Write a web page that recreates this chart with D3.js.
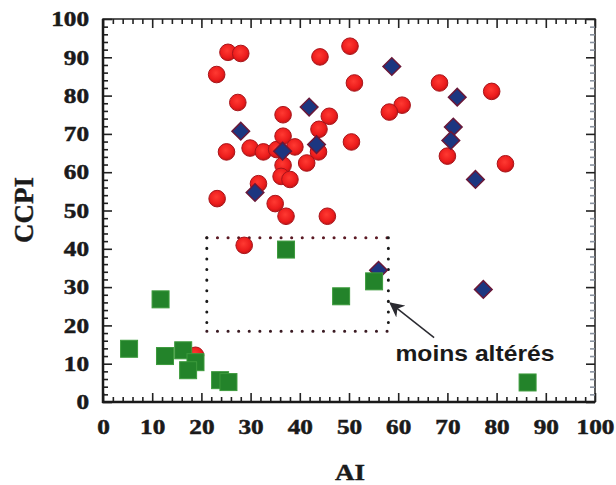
<!DOCTYPE html>
<html>
<head>
<meta charset="utf-8">
<script src="https://cdn.jsdelivr.net/npm/d3@7/dist/d3.min.js"></script>
<style>
  body { margin: 0; background: #fff; }
  svg { display: block; }
  .tick text { font-family: "Liberation Serif", "Times New Roman", serif; font-weight: bold; font-size: 21px; fill: #1a1a1a; stroke: #1a1a1a; stroke-width: 0.5px; }
</style>
</head>
<body>
<div id="chart"></div>
<script>
// red circles [AI, CCPI]
const circleData = [
  [25.4, 91.3], [28.0, 91.0], [23.1, 85.5], [27.4, 78.2], [25.1, 65.3],
  [36.6, 75.0], [46.0, 74.6], [43.9, 71.2], [44.1, 90.1], [50.2, 92.9],
  [51.1, 83.3], [60.8, 77.5], [58.2, 75.7], [68.4, 83.3], [79.0, 81.1],
  [70.0, 64.2], [81.8, 62.2], [50.5, 67.9], [45.6, 48.5], [43.8, 65.3],
  [41.4, 62.4], [29.9, 66.3], [32.6, 65.3], [35.3, 65.9], [36.6, 69.4],
  [39.0, 66.6], [36.6, 61.8], [36.2, 58.9], [38.0, 58.1], [31.6, 57.0],
  [23.2, 53.1], [35.0, 51.8], [37.2, 48.5], [28.7, 40.9], [18.8, 12.2]
];
// blue diamonds
const diamondData = [
  [28.0, 70.7], [41.9, 77.0], [43.4, 67.2], [36.5, 65.5], [30.9, 54.7],
  [58.7, 87.6], [72.0, 79.6], [71.2, 71.8], [70.7, 68.3], [75.7, 58.1],
  [77.3, 29.4], [56.0, 34.4]
];
// green squares
const squareData = [
  [5.3, 13.9], [11.7, 26.8], [12.6, 12.0], [16.3, 13.5], [18.8, 10.4],
  [17.3, 8.3], [23.8, 5.7], [25.5, 5.2], [37.2, 39.8], [48.4, 27.6],
  [55.1, 31.5], [86.3, 5.1]
];
// "moins altérés" box: [x0, y0, x1, y1]
const boxRange = [21.1, 18.5, 58.0, 42.9];
const majorTicks = d3.range(0, 101, 10);
const minorTicks = d3.range(0, 101, 2).filter(d => d % 10 !== 0);

const W = 616, H = 485;
const mLeft = 103, mRight = 595, mTop = 19, mBottom = 402;
const tickFont = 21, stretch = 1.2;

const svg = d3.select("#chart").append("svg").attr("width", W).attr("height", H);

const x = d3.scaleLinear().domain([0, 100]).range([mLeft, mRight]);
const y = d3.scaleLinear().domain([0, 100]).range([mBottom, mTop]);

const defs = svg.append("defs");
const rg = defs.append("radialGradient").attr("id", "redball").attr("cx", "45%").attr("cy", "40%").attr("r", "60%");
rg.append("stop").attr("offset", "0%").attr("stop-color", "#ff3a32");
rg.append("stop").attr("offset", "70%").attr("stop-color", "#ec1c1c");
rg.append("stop").attr("offset", "100%").attr("stop-color", "#c41414");

// frame
svg.append("rect")
  .attr("x", mLeft).attr("y", mTop)
  .attr("width", mRight - mLeft).attr("height", mBottom - mTop)
  .attr("fill", "none").attr("stroke", "#222").attr("stroke-width", 1.5);

function addAxis(axisFn, transform, ticks, size, labels, color) {
  const g = svg.append("g").attr("transform", transform)
    .call(axisFn.tickValues(ticks).tickSizeInner(-size).tickSizeOuter(0)
      .tickFormat(labels ? d3.format("d") : ""));
  g.select(".domain").remove();
  g.selectAll(".tick line").attr("stroke", color).attr("stroke-width", 1.6);
  if (labels) {
    // source labels are a wide bold serif; stretch glyphs horizontally
    g.selectAll(".tick text")
      .attr("textLength", d => String(d).length * 0.5 * tickFont * stretch)
      .attr("lengthAdjust", "spacingAndGlyphs");
  }
  return g;
}

// bottom
const gx = addAxis(d3.axisBottom(x), `translate(0,${mBottom})`, majorTicks, 9, true, "#222");
gx.selectAll(".tick text").attr("y", 17).attr("dy", "0.71em");
addAxis(d3.axisBottom(x), `translate(0,${mBottom})`, minorTicks, 5, false, "#222");
// top
addAxis(d3.axisTop(x), `translate(0,${mTop})`, majorTicks, 9, false, "#222");
addAxis(d3.axisTop(x), `translate(0,${mTop})`, minorTicks, 5, false, "#222");
// left
const gy = addAxis(d3.axisLeft(y), `translate(${mLeft},0)`, majorTicks, 9, true, "#222");
gy.selectAll(".tick text").attr("x", -14);
addAxis(d3.axisLeft(y), `translate(${mLeft},0)`, minorTicks, 5, false, "#222");
// right
addAxis(d3.axisRight(y), `translate(${mRight},0)`, majorTicks, 9, false, "#222");
addAxis(d3.axisRight(y), `translate(${mRight},0)`, minorTicks, 5, false, "#8a93a0");

// thicker left and bottom spines
svg.append("line").attr("x1", mLeft).attr("x2", mLeft).attr("y1", mTop).attr("y2", mBottom + 1)
  .attr("stroke", "#1a1a1a").attr("stroke-width", 2.5);
svg.append("line").attr("x1", mLeft - 1).attr("x2", mRight).attr("y1", mBottom).attr("y2", mBottom)
  .attr("stroke", "#1a1a1a").attr("stroke-width", 2.5);

// dotted box
const bx0 = x(boxRange[0]), by0 = y(boxRange[3]), bx1 = x(boxRange[2]), by1 = y(boxRange[1]);
const dot = { "stroke-width": 3, "stroke-dasharray": "0.1 10.5", "stroke-linecap": "round", fill: "none" };
[[bx0, by0, bx1, by0, "#5c1a24"], [bx0, by1, bx1, by1, "#3a1a22"],
 [bx0, by0, bx0, by1, "#1a1a1a"], [bx1, by0, bx1, by1, "#1a1a1a"]].forEach(([a, b, c, d, col]) => {
  const l = svg.append("line").attr("x1", a).attr("y1", b).attr("x2", c).attr("y2", d).attr("stroke", col);
  Object.entries(dot).forEach(([k, v]) => l.attr(k, v));
});

// circles
svg.append("g").selectAll("circle").data(circleData).join("circle")
  .attr("cx", d => x(d[0])).attr("cy", d => y(d[1])).attr("r", 8.3)
  .attr("fill", "url(#redball)").attr("stroke", "#a8141a").attr("stroke-width", 1);

// diamonds
svg.append("g").selectAll("path").data(diamondData).join("path")
  .attr("d", d3.symbol().type(d3.symbolSquare).size(155))
  .attr("transform", d => `translate(${x(d[0])},${y(d[1])}) rotate(45)`)
  .attr("fill", "#1c3680").attr("stroke", "#6a1838").attr("stroke-width", 1.5);

// squares
svg.append("g").selectAll("rect").data(squareData).join("rect")
  .attr("x", d => x(d[0]) - 8.5).attr("y", d => y(d[1]) - 8.5)
  .attr("width", 17).attr("height", 17)
  .attr("fill", "#23832a").attr("stroke", "#3c9a3c").attr("stroke-width", 1);

// arrow + label
defs.append("marker").attr("id", "arrowhead").attr("viewBox", "0 0 10 10")
  .attr("refX", 9).attr("refY", 5).attr("markerWidth", 10).attr("markerHeight", 10)
  .attr("orient", "auto-start-reverse")
  .append("path").attr("d", "M0,0 L10,5 L0,10 L3,5 Z").attr("fill", "#2a2a30");
svg.append("line")
  .attr("x1", x(67.3)).attr("y1", y(16.8)).attr("x2", x(58.4)).attr("y2", y(25.8))
  .attr("stroke", "#2a2a30").attr("stroke-width", 1.5).attr("marker-end", "url(#arrowhead)");
svg.append("text").attr("x", x(75.6)).attr("y", y(10.8))
  .attr("text-anchor", "middle")
  .attr("textLength", 159).attr("lengthAdjust", "spacingAndGlyphs")
  .style("font-family", "'Liberation Sans', Arial, sans-serif").style("font-weight", "bold").style("font-size", "22px")
  .attr("fill", "#1a1a1a").text("moins altérés");

// axis titles
svg.append("text").attr("x", 350).attr("y", 480).attr("text-anchor", "middle")
  .attr("textLength", 30).attr("lengthAdjust", "spacingAndGlyphs")
  .style("font-family", "'Liberation Serif', 'Times New Roman', serif").style("font-weight", "bold").style("font-size", "23px")
  .attr("fill", "#1a1a1a").attr("stroke", "#1a1a1a").attr("stroke-width", 0.4).text("AI");
svg.append("text").attr("transform", "translate(33,210) rotate(-90)").attr("text-anchor", "middle")
  .attr("textLength", 66).attr("lengthAdjust", "spacingAndGlyphs")
  .style("font-family", "'Liberation Serif', 'Times New Roman', serif").style("font-weight", "bold").style("font-size", "28px")
  .attr("fill", "#1a1a1a").attr("stroke", "#1a1a1a").attr("stroke-width", 0.4).text("CCPI");
</script>
</body>
</html>
